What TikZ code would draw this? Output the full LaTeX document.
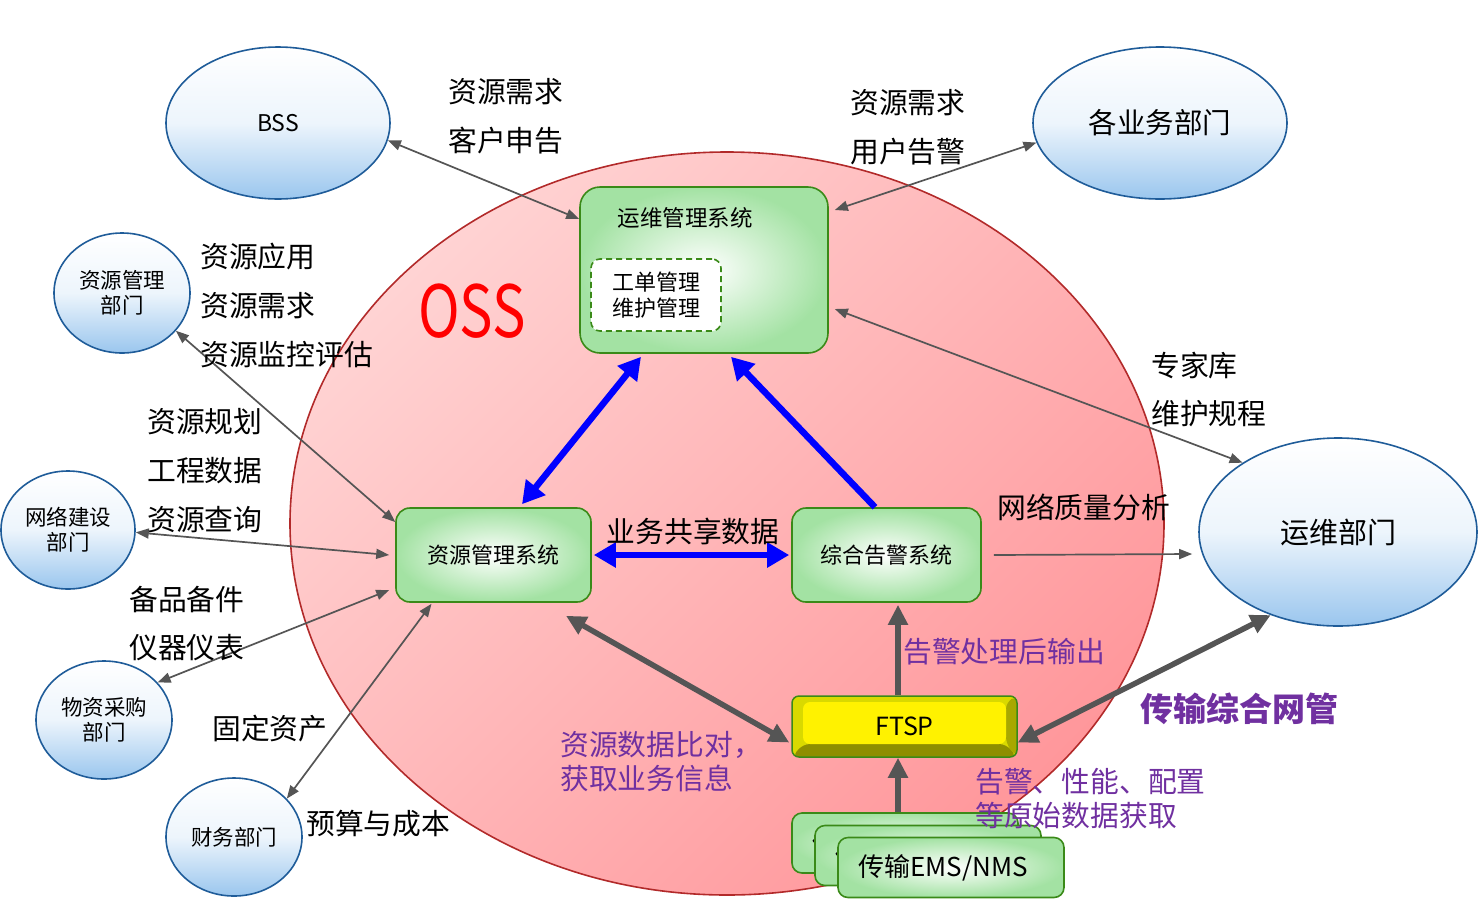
\documentclass[tikz,border=0pt]{standalone}
\usepackage{fontspec}
\setmainfont{Noto Sans CJK SC}
\usetikzlibrary{shapes.geometric,arrows.meta}
\definecolor{ossfillA}{HTML}{FFD3D3}
\definecolor{ossfillB}{HTML}{FF979B}
\definecolor{ossborder}{HTML}{B22A2A}
\definecolor{deptblue}{HTML}{9AC6EE}
\definecolor{deptborder}{HTML}{1F5C99}
\definecolor{boxgreen}{HTML}{A3E2A3}
\definecolor{boxborder}{HTML}{3A8A18}
\definecolor{arrgray}{HTML}{555555}
\definecolor{lblpurple}{HTML}{7030A0}
\definecolor{bevelL}{HTML}{D9D900}
\definecolor{bevelR}{HTML}{A8A800}
\definecolor{bevelB}{HTML}{8E8E00}
\definecolor{arrblue}{HTML}{0000FF}
\begin{document}
\begin{tikzpicture}[x=1pt,y=-1pt,
  dept/.style={ellipse, draw=deptborder, line width=1.6pt, top color=white, bottom color=deptblue, middle color=white!82!deptblue, inner sep=0pt, align=center},
  sysbox/.style={rectangle, rounded corners=14pt, draw=boxborder, line width=1.6pt, inner color=white, outer color=boxgreen, inner sep=0pt, align=center},
  emsbox/.style={sysbox, rounded corners=10pt, minimum width=226pt, minimum height=60pt},
  emstext/.style={anchor=west, inner sep=0pt, font=\fontsize{26}{30}\selectfont},
  lbl/.style={anchor=west, inner sep=0pt, font=\fontsize{28.8}{32}\selectfont},
  plbl/.style={anchor=west, inner sep=0pt, text=lblpurple, align=left, font=\fontsize{28.8}{34}\selectfont},
  thinarr/.style={draw=arrgray, line width=1.7pt, arrows={Triangle[length=13pt,width=10pt]-Triangle[length=13pt,width=10pt]}},
  thinone/.style={draw=arrgray, line width=1.7pt, arrows={-Triangle[length=13pt,width=10pt]}},
  thickarr/.style={draw=arrgray, line width=5.5pt, arrows={Triangle[length=20pt,width=19pt]-Triangle[length=20pt,width=19pt]}},
  thickone/.style={draw=arrgray, line width=5.5pt, arrows={-Triangle[length=20pt,width=19pt]}},
  bluearr/.style={draw=arrblue, line width=6.5pt, arrows={Triangle[length=22pt,width=24pt]-Triangle[length=22pt,width=24pt]}},
  blueone/.style={draw=arrblue, line width=6.5pt, arrows={-Triangle[length=22pt,width=24pt]}},
  ftspbox/.style={rectangle, rounded corners=7pt, draw=boxborder, line width=1.5pt, minimum width=225pt, minimum height=61pt, inner sep=0pt, fill=bevelL, font=\fontsize{25}{30}\selectfont,
    path picture={
      \fill[bevelB] (path picture bounding box.south west) -- ++(11pt,13pt) -- ([shift={(-11pt,13pt)}]path picture bounding box.south east) -- (path picture bounding box.south east) -- cycle;
      \fill[bevelR] (path picture bounding box.north east) -- ++(-11pt,-6pt) -- ([shift={(-11pt,13pt)}]path picture bounding box.south east) -- (path picture bounding box.south east) -- cycle;
      \fill[yellow] ([shift={(11pt,-6pt)}]path picture bounding box.north west) rectangle ([shift={(-11pt,13pt)}]path picture bounding box.south east);
    }}
]
\useasboundingbox (0,0) rectangle (1478,903);

% OSS background
\node[ellipse, draw=ossborder, line width=1.6pt, top color=ossfillA, bottom color=ossfillB, shading angle=45, minimum width=874pt, minimum height=743pt, inner sep=0pt] (oss) at (727,523.5) {};
\node[text=red, inner sep=0pt] (osst) at (472,311) {\scalebox{0.78}[1]{\fontsize{72}{72}\selectfont OSS}};

% departments
\node[dept, minimum width=224pt, minimum height=152pt, font=\fontsize{23}{28}\selectfont] (bss) at (278,123) {BSS};
\node[dept, minimum width=254pt, minimum height=152pt, font=\fontsize{28.5}{32}\selectfont] (gyw) at (1160,123) {各业务部门};
\node[dept, minimum width=136pt, minimum height=120pt, font=\fontsize{21.5}{25}\selectfont] (zyb) at (122,293) {资源管理\\部门};
\node[dept, minimum width=134pt, minimum height=118pt, font=\fontsize{21.5}{25}\selectfont] (wlb) at (68,530) {网络建设\\部门};
\node[dept, minimum width=136pt, minimum height=118pt, font=\fontsize{21.5}{25}\selectfont] (wzb) at (104,720) {物资采购\\部门};
\node[dept, minimum width=136pt, minimum height=118pt, font=\fontsize{21.5}{25}\selectfont] (cwb) at (234,837) {财务部门};
\node[dept, minimum width=278pt, minimum height=188pt, font=\fontsize{29}{32}\selectfont] (ywb) at (1338,532) {运维部门};

% systems
\node[sysbox, rounded corners=20pt, minimum width=248pt, minimum height=166pt] (ywxt) at (704,270) {};
\node[inner sep=0pt, font=\fontsize{22.5}{26}\selectfont] (ywxtt) at (685,218) {运维管理系统};
\node[rectangle, rounded corners=9pt, draw=boxborder, dash pattern=on 6pt off 4pt, line width=1.6pt, fill=white, minimum width=130pt, minimum height=72pt, align=left, inner sep=0pt, font=\fontsize{22}{26}\selectfont] (wh) at (656,295) {工单管理\\维护管理};
\node[sysbox, minimum width=195pt, minimum height=94pt, font=\fontsize{22}{26}\selectfont] (zyxt) at (493.5,555) {资源管理系统};
\node[sysbox, minimum width=189pt, minimum height=94pt, font=\fontsize{22}{26}\selectfont] (gjxt) at (886.5,555) {综合告警系统};
\node[ftspbox] (ftsp) at (904.5,726.5) {FTSP};

\node[emsbox] (ems1) at (905,843) {};
\node[emstext] (ems1t) at ([xshift=21pt]ems1.west) {传};
\node[emsbox] (ems2) at (928,855.5) {};
\node[emstext] (ems2t) at ([xshift=21pt]ems2.west) {传};
\node[emsbox] (ems3) at (951,867.5) {};
\node[emstext] (ems3t) at ([xshift=21pt]ems3.west) {传输EMS/NMS};

% thin arrows
\draw[thinarr] (bss.-9) -- ([yshift=51pt]ywxt.west);
\draw[thinarr] (gyw.189) -- ([xshift=6pt,yshift=60pt]ywxt.east);
\draw[thinarr] ([xshift=6pt,yshift=-39pt]ywxt.east) -- (ywb.144);
\draw[thinarr] (zyb.-35) -- ([yshift=33pt]zyxt.west);
\draw[thinarr] (wlb.-2) -- ([xshift=-6pt]zyxt.west);
\draw[thinarr] (wzb.35) -- ([xshift=-6pt,yshift=-35pt]zyxt.west);
\draw[thinarr] (cwb.36) -- ([xshift=-62pt,yshift=-1pt]zyxt.south);
\draw[thinone] ([xshift=12pt]gjxt.east) -- ([xshift=-6pt,yshift=-22pt]ywb.west);

% thick gray arrows
\draw[thickone] ([xshift=-6.5pt]ftsp.north) -- ([xshift=11.5pt,yshift=-2pt]gjxt.south);
\draw[thickone] ([xshift=-7pt]ems1.north) -- ([xshift=-6.5pt]ftsp.south);
\draw[thickarr] ([xshift=-2pt,yshift=-16pt]ftsp.west) -- ([xshift=72.5pt,yshift=-13pt]zyxt.south);
\draw[thickarr] ([yshift=-16pt]ftsp.east) -- (ywb.231);

% blue arrows
\draw[bluearr] ([xshift=28.5pt,yshift=3pt]zyxt.north) -- ([xshift=-63pt,yshift=-3pt]ywxt.south);
\draw[blueone] ([xshift=-11.5pt]gjxt.north) -- ([xshift=27pt,yshift=-3pt]ywxt.south);
\draw[bluearr] ([xshift=2pt]zyxt.east) -- ([xshift=-2pt]gjxt.west);

% black labels
\node[lbl] (t1) at (448,92) {资源需求};
\node[lbl] (t2) at (448,141) {客户申告};
\node[lbl] (t3) at (850,103) {资源需求};
\node[lbl] (t4) at (850,152) {用户告警};
\node[lbl] (t5) at (200,257) {资源应用};
\node[lbl] (t6) at (200,306) {资源需求};
\node[lbl] (t7) at (200,355) {资源监控评估};
\node[lbl] (t8) at (147,422) {资源规划};
\node[lbl] (t9) at (147,471) {工程数据};
\node[lbl] (t10) at (147,520) {资源查询};
\node[lbl] (t11) at (129,600) {备品备件};
\node[lbl] (t12) at (129,648) {仪器仪表};
\node[lbl] (t13) at (212,729) {固定资产};
\node[lbl] (t14) at (306,824) {预算与成本};
\node[lbl] (t15) at (1151,366) {专家库};
\node[lbl] (t16) at (1151,414) {维护规程};
\node[lbl] (t17) at (997,507) {网络质量分析};
\node[inner sep=0pt, font=\fontsize{28.8}{32}\selectfont] (t18) at (693,531) {业务共享数据};

% purple labels
\node[plbl] (p1) at (903,652) {告警处理后输出};
\node[plbl, font=\fontsize{33}{38}\selectfont\bfseries] (p2) at (1140,709) {传输综合网管};
\node[plbl] (p3) at (560,762) {资源数据比对，\\获取业务信息};
\node[plbl] (p4) at (975,798.5) {告警、性能、配置\\等原始数据获取};
\end{tikzpicture}
\end{document}
